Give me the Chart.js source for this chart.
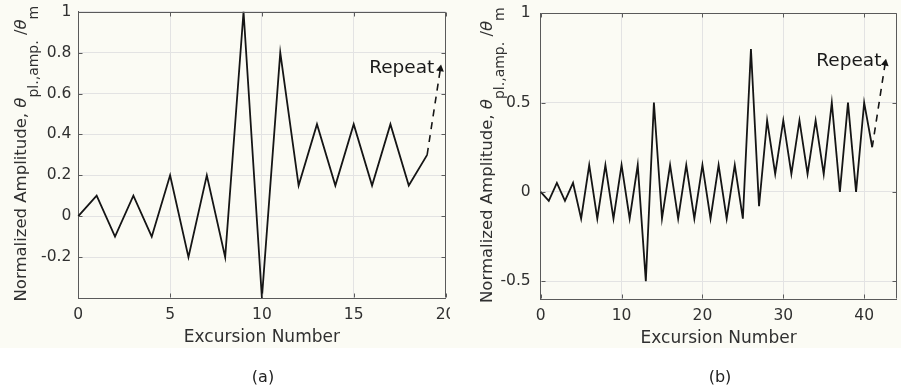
<!DOCTYPE html>
<html><head><meta charset="utf-8">
<script src="https://cdn.jsdelivr.net/npm/chart.js@4.4.1/dist/chart.umd.min.js"></script>
<style>
html,body{margin:0;padding:0;background:#fff;}
#wrap{position:relative;width:901px;height:389px;overflow:hidden;background:#fff;}
#cream{position:absolute;left:0;top:0;width:901px;height:348px;background:#fbfbf4;}
canvas{position:absolute;top:0;}
#c1{left:0;} #c2{left:450px;}
.cap{position:absolute;top:367px;font:16px "DejaVu Sans";line-height:20px;color:#222;transform:translateX(-50%);}
</style></head><body>
<div id="wrap"><div id="cream"></div>
<canvas id="c1" width="450" height="389"></canvas>
<canvas id="c2" width="451" height="389"></canvas>
<div class="cap" style="left:263px">(a)</div>
<div class="cap" style="left:720px">(b)</div>
</div>
<script>
// ---------- data: panel (a) ----------
const leftExcursion = [0,1,2,3,4,5,6,7,8,9,10,11,12,13,14,15,16,17,18,19];
const leftAmplitude = [0,0.1,-0.1,0.1,-0.1,0.2,-0.2,0.2,-0.2,1,-0.4,0.8,0.15,0.45,0.15,0.45,0.15,0.45,0.15,0.3];
const leftRepeatX = [19, 19.72];
const leftRepeatY = [0.3, 0.72];
const leftXTicks = [0,5,10,15,20];
const leftYTicks = [-0.2,0,0.2,0.4,0.6,0.8,1];
const leftYTickLabels = ['-0.2','0','0.2','0.4','0.6','0.8','1'];

// ---------- data: panel (b) ----------
const rightExcursion = [0,1,2,3,4,5,6,7,8,9,10,11,12,13,14,15,16,17,18,19,20,21,22,23,24,25,26,27,28,29,30,31,32,33,34,35,36,37,38,39,40,41];
const rightAmplitude = [0,-0.05,0.05,-0.05,0.05,-0.15,0.15,-0.15,0.15,-0.15,0.15,-0.15,0.15,-0.5,0.5,-0.15,0.15,-0.15,0.15,-0.15,0.15,-0.15,0.15,-0.15,0.15,-0.15,0.8,-0.08,0.4,0.1,0.4,0.1,0.4,0.1,0.4,0.1,0.5,0,0.5,0,0.5,0.25];
const rightRepeatX = [41, 42.6];
const rightRepeatY = [0.25, 0.72];
const rightXTicks = [0,10,20,30,40];
const rightYTicks = [-0.5,0,0.5,1];
const rightYTickLabels = ['-0.5','0','0.5','1'];

// ---------- styles ----------
const FONT = '"DejaVu Sans", "Liberation Sans", sans-serif';
const LINE = '#151515';
const GRID = '#e3e3e3';
const AXIS = '#5a5a5a';
const TEXT = '#303030';

const decoPlugin = {
  id: 'deco',
  afterDraw(chart, args, o) {
    const {ctx, chartArea: a, scales: {x, y}} = chart;
    ctx.save();
    // box (top/right) and inward ticks
    ctx.strokeStyle = AXIS; ctx.lineWidth = 1;
    const T = Math.round(a.top) + 0.5, R = Math.round(a.right) - 0.5;
    const B = Math.round(a.bottom) - 0.5, L = Math.round(a.left) + 0.5;
    ctx.beginPath();
    ctx.moveTo(L, T); ctx.lineTo(R, T); ctx.lineTo(R, B);
    x.ticks.forEach(t => {
      const px = Math.round(x.getPixelForValue(t.value)) + 0.5;
      ctx.moveTo(px, B); ctx.lineTo(px, B - 4);
      ctx.moveTo(px, T); ctx.lineTo(px, T + 4);
    });
    y.ticks.forEach(t => {
      const py = Math.round(y.getPixelForValue(t.value)) + 0.5;
      ctx.moveTo(L, py); ctx.lineTo(L + 4, py);
      ctx.moveTo(R, py); ctx.lineTo(R - 4, py);
    });
    ctx.stroke();
    // "Repeat" label
    ctx.fillStyle = '#1a1a1a';
    ctx.font = '18.5px ' + FONT;
    ctx.textAlign = 'right'; ctx.textBaseline = 'alphabetic';
    ctx.fillText('Repeat', x.getPixelForValue(o.repeatX), y.getPixelForValue(o.repeatY));
    // y-axis title with subscripts
    ctx.translate(o.titleX, o.titleY);
    ctx.rotate(-Math.PI / 2);
    ctx.textAlign = 'left'; ctx.fillStyle = TEXT;
    let cx = 0;
    const seg = (t, font, dy) => { ctx.font = font; ctx.fillText(t, cx, dy); cx += ctx.measureText(t).width; };
    const main = '16.5px ' + FONT, ital = 'italic 16.5px ' + FONT, sub = '14px ' + FONT;
    seg('Normalized Amplitude, ', main, 0);
    seg('\u03B8', ital, 0);
    seg('pl.,amp.', sub, 12);
    seg(' /', main, 0);
    seg('\u03B8', ital, 0);
    seg('m', sub, 12);
    ctx.restore();
  }
};

function makeChart(id, xs, ys, rx, ry, o) {
  const pts = xs.map((v, i) => ({x: v, y: ys[i]}));
  const rpts = rx.map((v, i) => ({x: v, y: ry[i]}));
  return new Chart(document.getElementById(id), {
    type: 'scatter',
    data: {datasets: [
      {data: pts, showLine: true, borderColor: LINE, borderWidth: 1.8, pointRadius: 0, tension: 0, clip: 4},
      {data: rpts, showLine: true, borderColor: LINE, borderWidth: 1.6, borderDash: [7, 6],
       pointRadius: [0, 4.5], pointStyle: 'triangle', rotation: [0, o.arrowRot],
       pointBackgroundColor: LINE, pointBorderColor: LINE, pointBorderWidth: 0, clip: 8}
    ]},
    options: {
      responsive: false, animation: false, events: [],
      layout: {padding: {left: 0, right: o.padRight, top: o.padTop, bottom: o.padBottom}},
      plugins: {legend: {display: false}, tooltip: {enabled: false},
        deco: {repeatX: o.repeatX, repeatY: o.repeatY, titleX: o.titleX, titleY: o.titleY}},
      scales: {
        x: {type: 'linear', min: o.xMin, max: o.xMax,
          afterBuildTicks: s => { s.ticks = o.xTicks.map(v => ({value: v})); },
          ticks: {color: TEXT, font: {family: FONT, size: 15.5}, padding: 8, maxRotation: 0, autoSkip: false},
          grid: {color: GRID, drawTicks: false, lineWidth: 1},
          border: {color: AXIS, width: 1},
          title: {display: true, text: 'Excursion Number', color: TEXT, font: {family: FONT, size: 17}, padding: 0},
          afterFit: s => { s.height = 50; s.paddingLeft = 0; s.paddingRight = 0; }
        },
        y: {type: 'linear', min: o.yMin, max: o.yMax,
          afterBuildTicks: s => { s.ticks = o.yTicks.map(v => ({value: v})); },
          ticks: {color: TEXT, font: {family: FONT, size: 15.5}, padding: o.yPad, autoSkip: false,
            callback: v => o.yLabels[o.yTicks.indexOf(v)] ?? ''},
          grid: {color: GRID, drawTicks: false, lineWidth: 1},
          border: {color: AXIS, width: 1},
          afterFit: s => { s.width = o.yWidth; s.paddingTop = 0; s.paddingBottom = 0; }
        }
      }
    },
    plugins: [decoPlugin]
  });
}

makeChart('c1', leftExcursion, leftAmplitude, leftRepeatX, leftRepeatY, {
  xMin: 0, xMax: 20, yMin: -0.4, yMax: 1, xTicks: leftXTicks, yTicks: leftYTicks, yLabels: leftYTickLabels,
  padRight: 3, padTop: 11.7, padBottom: 41, yWidth: 78.3, yPad: 7,
  arrowRot: 9, repeatX: 19.39, repeatY: 0.70, titleX: 26, titleY: 301.5
});
makeChart('c2', rightExcursion, rightAmplitude, rightRepeatX, rightRepeatY, {
  xMin: 0, xMax: 44, yMin: -0.6, yMax: 1, xTicks: rightXTicks, yTicks: rightYTicks, yLabels: rightYTickLabels,
  padRight: 0, padTop: 13.3, padBottom: 40, yWidth: 90.7, yPad: 10,
  arrowRot: 10.5, repeatX: 42.14, repeatY: 0.707, titleX: 42, titleY: 303
});
</script>
</body></html>
